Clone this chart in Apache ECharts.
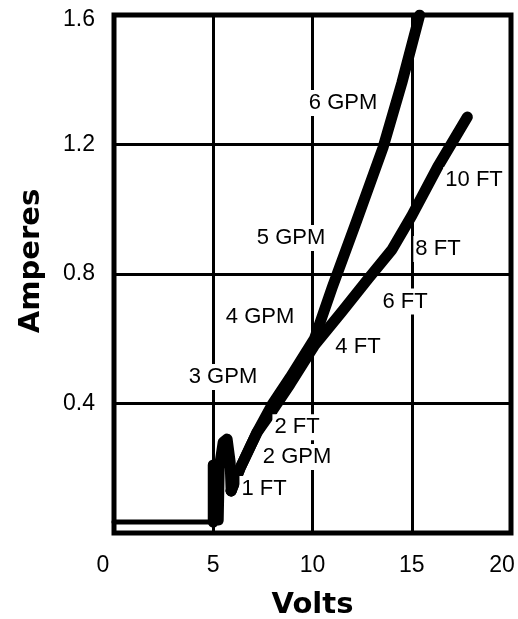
<!DOCTYPE html>
<html>
<head>
<meta charset="utf-8">
<script src="https://cdn.jsdelivr.net/npm/echarts@6/dist/echarts.min.js"></script>
<style>
html,body{margin:0;padding:0;background:#fff;}
#chart{width:518px;height:619px;}
</style>
</head>
<body>
<div id="chart"></div>
<script>
// Data (Volts, Amperes)
const baseVolts = [0, 5.0];
const baseAmps = [0.034, 0.034];
const startVolts = [5.0, 5.0, 5.25, 5.3, 5.5, 5.7, 5.85, 5.9];
const startAmps = [0.034, 0.21, 0.04, 0.2, 0.28, 0.29, 0.22, 0.13];
const gpmVolts = [5.9, 6.35, 7.2, 8.0, 8.87, 10.1, 11.0, 12.2, 13.55, 14.5, 15.4];
const gpmAmps = [0.13, 0.2, 0.31, 0.40, 0.48, 0.60, 0.76, 0.96, 1.19, 1.39, 1.6];
const ftVolts = [5.9, 6.35, 7.2, 8.0, 8.87, 10.1, 11.5, 12.8, 14.0, 15.0, 16.3, 17.8];
const ftAmps = [0.13, 0.2, 0.31, 0.38, 0.46, 0.58, 0.685, 0.785, 0.875, 0.98, 1.13, 1.285];

const labelTexts = ['6 GPM', '5 GPM', '4 GPM', '3 GPM', '2 GPM', '2 FT', '1 FT', '4 FT', '6 FT', '8 FT', '10 FT'];
const labelVolts = [11.54, 8.92, 7.36, 5.49, 9.22, 9.22, 7.56, 12.29, 14.66, 16.32, 18.14];
const labelAmps = [1.328, 0.911, 0.667, 0.482, 0.235, 0.327, 0.136, 0.575, 0.715, 0.877, 1.09];

const xTicks = [0, 5, 10, 15, 20];
const yTicks = [0.4, 0.8, 1.2, 1.6];

const zip = (a, b) => a.map((v, i) => [v, b[i]]);

const chart = echarts.init(document.getElementById('chart'));
const font = "'Liberation Sans', Arial, sans-serif";
const tickFont = font;
const tickSize = 23;

chart.setOption({
  animation: false,
  backgroundColor: '#fff',
  grid: {left: 114, right: 7, top: 15, bottom: 86, outerBoundsMode: 'none', containLabel: false,
    show: true, borderColor: '#000', borderWidth: 5, backgroundColor: 'transparent'},
  xAxis: {
    type: 'value', min: 0, max: 20, interval: 5,
    name: 'Volts', nameLocation: 'middle', nameGap: 58,
    nameTextStyle: {fontFamily: "'DejaVu Sans', sans-serif", fontWeight: 'bold', fontSize: 29, color: '#000'},
    axisLine: {show: false}, axisTick: {show: false},
    splitLine: {show: true, lineStyle: {color: '#000', width: 3}},
    axisLabel: {
      margin: 21, fontFamily: tickFont, fontSize: tickSize, color: '#000',
      formatter: v => xTicks.includes(v) ? (v === 0 ? '{z|0}' : v === 20 ? '{t|20}' : String(v)) : '',
      rich: {
        z: {fontFamily: tickFont, fontSize: tickSize, color: '#000', padding: [0, 22, 0, 0]},
        t: {fontFamily: tickFont, fontSize: tickSize, color: '#000', padding: [0, 18, 0, 0]}
      }
    }
  },
  yAxis: {
    type: 'value', min: 0, max: 1.6, interval: 0.4,
    name: 'Amperes', nameLocation: 'middle', nameGap: 68,
    nameTextStyle: {fontFamily: "'DejaVu Sans', sans-serif", fontWeight: 'bold', fontSize: 29, color: '#000', padding: [0, 0, 0, 26]},
    axisLine: {show: false}, axisTick: {show: false},
    splitLine: {show: true, lineStyle: {color: '#000', width: 3}},
    axisLabel: {
      margin: 19, fontFamily: tickFont, fontSize: tickSize, color: '#000',
      formatter: v => {
        const t = yTicks.find(y => Math.abs(y - v) < 1e-6);
        if (t === undefined) return '';
        return t === 1.6 ? '{s|1.6}' : t.toFixed(1);
      },
      rich: {s: {fontFamily: tickFont, fontSize: tickSize, color: '#000', padding: [10, 0, 0, 0]}}
    }
  },
  series: [
    {type: 'line', data: zip(baseVolts, baseAmps), symbol: 'none', lineStyle: {color: '#000', width: 5, cap: 'round', join: 'round'}, z: 3},
    {type: 'line', data: zip(startVolts, startAmps), symbol: 'none', lineStyle: {color: '#000', width: 11, cap: 'round', join: 'round'}, z: 3},
    {type: 'line', name: 'GPM', data: zip(gpmVolts, gpmAmps), symbol: 'none', lineStyle: {color: '#000', width: 11, cap: 'round', join: 'round'}, z: 3},
    {type: 'line', name: 'FT', data: zip(ftVolts, ftAmps), symbol: 'none', lineStyle: {color: '#000', width: 11, cap: 'round', join: 'round'}, z: 3},
    {
      type: 'scatter', z: 10, symbolSize: 0, itemStyle: {opacity: 1},
      data: labelTexts.map((t, i) => ({name: t, value: [labelVolts[i], labelAmps[i]]})),
      label: {show: true, position: 'inside', formatter: p => p.name, fontFamily: font, fontSize: 22, color: '#000', opacity: 1, backgroundColor: '#fff', padding: [2, 2]}
    }
  ]
});
</script>
</body>
</html>
